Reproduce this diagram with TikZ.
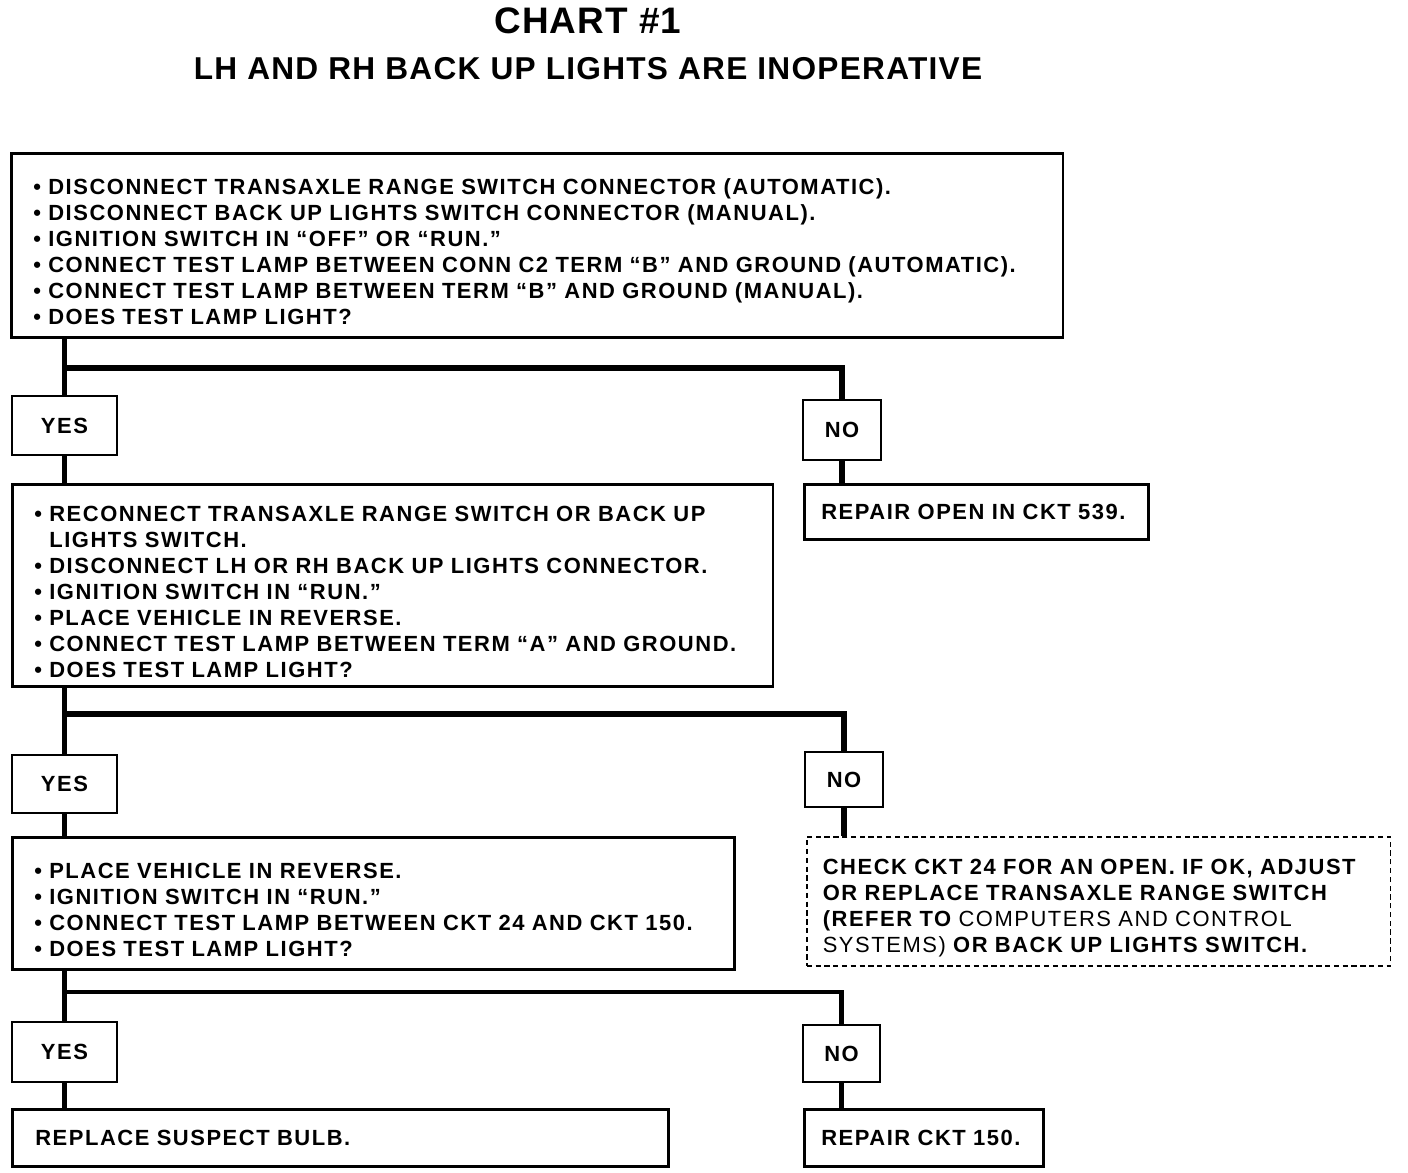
\documentclass[tikz,border=0pt]{standalone}
\usepackage{fontspec}
\setmainfont{Liberation Sans}[LetterSpace=7]
\usepackage{tikz}
\usetikzlibrary{positioning}

\newcommand{\padtop}{\rule{0pt}{16pt}}

\begin{document}
\begin{tikzpicture}[
    x=0.02cm, y=-0.02cm,
    body/.style={font=\fontsize{12.5}{14.8}\selectfont\bfseries},
    box/.style={body, draw, line width=1.5pt, anchor=north west, align=left, inner xsep=0.44cm, inner ysep=0pt},
    tag/.style={body, draw, line width=1.5pt, inner sep=0pt},
    wire/.style={line width=3pt},
    open/.style={body, draw, line width=0.9pt, densely dashed, anchor=north west, align=left, inner xsep=0.32cm, inner ysep=0pt}
]
    \useasboundingbox (0,0) rectangle (1408,1172);

    % Title
    \node[font=\fontsize{21}{24}\selectfont\bfseries\addfontfeature{LetterSpace=3}] (title) at (588,21) {CHART \#1};
    \node[font=\fontsize{18}{21}\selectfont\bfseries\addfontfeature{LetterSpace=4}] (subtitle) at (588,69) {LH AND RH BACK UP LIGHTS ARE INOPERATIVE};

    % First check
    \node[box, text width=20.16cm, minimum height=3.68cm] (chk1) at (10,152) {%
        \padtop\textbullet\ DISCONNECT TRANSAXLE RANGE SWITCH CONNECTOR (AUTOMATIC).\\
        \textbullet\ DISCONNECT BACK UP LIGHTS SWITCH CONNECTOR (MANUAL).\\
        \textbullet\ IGNITION SWITCH IN “OFF” OR “RUN.”\\
        \textbullet\ CONNECT TEST LAMP BETWEEN CONN C2 TERM “B” AND GROUND (AUTOMATIC).\\
        \textbullet\ CONNECT TEST LAMP BETWEEN TERM “B” AND GROUND (MANUAL).\\
        \textbullet\ DOES TEST LAMP LIGHT?};
    \node[tag, minimum width=2.1cm, minimum height=1.18cm] (yes1) at (64.5,425.5) {YES};
    \node[tag, minimum width=1.56cm, minimum height=1.2cm] (no1) at (842,430) {NO};
    \node[box, inner xsep=0.34cm, text width=6.2cm, minimum height=1.1cm] (fix1) at (803,483) {REPAIR OPEN IN CKT 539.};

    % Second check
    \node[box, text width=14.34cm, minimum height=4.04cm] (chk2) at (11,483) {%
        \padtop\textbullet\ RECONNECT TRANSAXLE RANGE SWITCH OR BACK UP\\
        \phantom{\textbullet\ }LIGHTS SWITCH.\\
        \textbullet\ DISCONNECT LH OR RH BACK UP LIGHTS CONNECTOR.\\
        \textbullet\ IGNITION SWITCH IN “RUN.”\\
        \textbullet\ PLACE VEHICLE IN REVERSE.\\
        \textbullet\ CONNECT TEST LAMP BETWEEN TERM “A” AND GROUND.\\
        \textbullet\ DOES TEST LAMP LIGHT?};
    \node[tag, minimum width=2.1cm, minimum height=1.16cm] (yes2) at (64.5,784) {YES};
    \node[tag, minimum width=1.56cm, minimum height=1.1cm] (no2) at (844,779.5) {NO};
    \node[open, text width=11.04cm, minimum height=2.58cm] (fix2) at (806,836) {%
        \padtop CHECK CKT 24 FOR AN OPEN. IF OK, ADJUST\\
        OR REPLACE TRANSAXLE RANGE SWITCH\\
        (REFER TO {\mdseries COMPUTERS AND CONTROL}\\
        {\mdseries SYSTEMS)} OR BACK UP LIGHTS SWITCH.};

    % Third check
    \node[box, text width=13.56cm, minimum height=2.64cm] (chk3) at (11,836) {%
        \padtop\textbullet\ PLACE VEHICLE IN REVERSE.\\
        \textbullet\ IGNITION SWITCH IN “RUN.”\\
        \textbullet\ CONNECT TEST LAMP BETWEEN CKT 24 AND CKT 150.\\
        \textbullet\ DOES TEST LAMP LIGHT?};
    \node[tag, minimum width=2.1cm, minimum height=1.2cm] (yes3) at (64.5,1052) {YES};
    \node[tag, minimum width=1.54cm, minimum height=1.14cm] (no3) at (841.5,1053.5) {NO};
    \node[box, inner xsep=0.46cm, text width=12.2cm, minimum height=1.14cm] (bulb) at (11,1108) {REPLACE SUSPECT BULB.};
    \node[box, inner xsep=0.34cm, text width=4.1cm, minimum height=1.14cm] (fix3) at (803,1108) {REPAIR CKT 150.};

    % Branch points
    \coordinate (br1) at (62,368);
    \coordinate (br2) at (62,714);
    \coordinate (br3) at (62,992);

    % Connectors
    \draw[wire] (yes1.north |- chk1.south) -- (yes1.north);
    \draw[wire] (br1) -| (no1.north);
    \draw[wire] (yes1.south) -- (yes1.south |- chk2.north);
    \draw[wire] (no1.south) -- (no1.south |- fix1.north);

    \draw[wire] (yes2.north |- chk2.south) -- (yes2.north);
    \draw[wire] (br2) -| (no2.north);
    \draw[wire] (yes2.south) -- (yes2.south |- chk3.north);
    \draw[wire] (no2.south) -- (no2.south |- fix2.north);

    \draw[wire] (yes3.north |- chk3.south) -- (yes3.north);
    \draw[wire, line width=2.4pt] (br3) -| (no3.north);
    \draw[wire] (yes3.south) -- (yes3.south |- bulb.north);
    \draw[wire] (no3.south) -- (no3.south |- fix3.north);
\end{tikzpicture}
\end{document}
